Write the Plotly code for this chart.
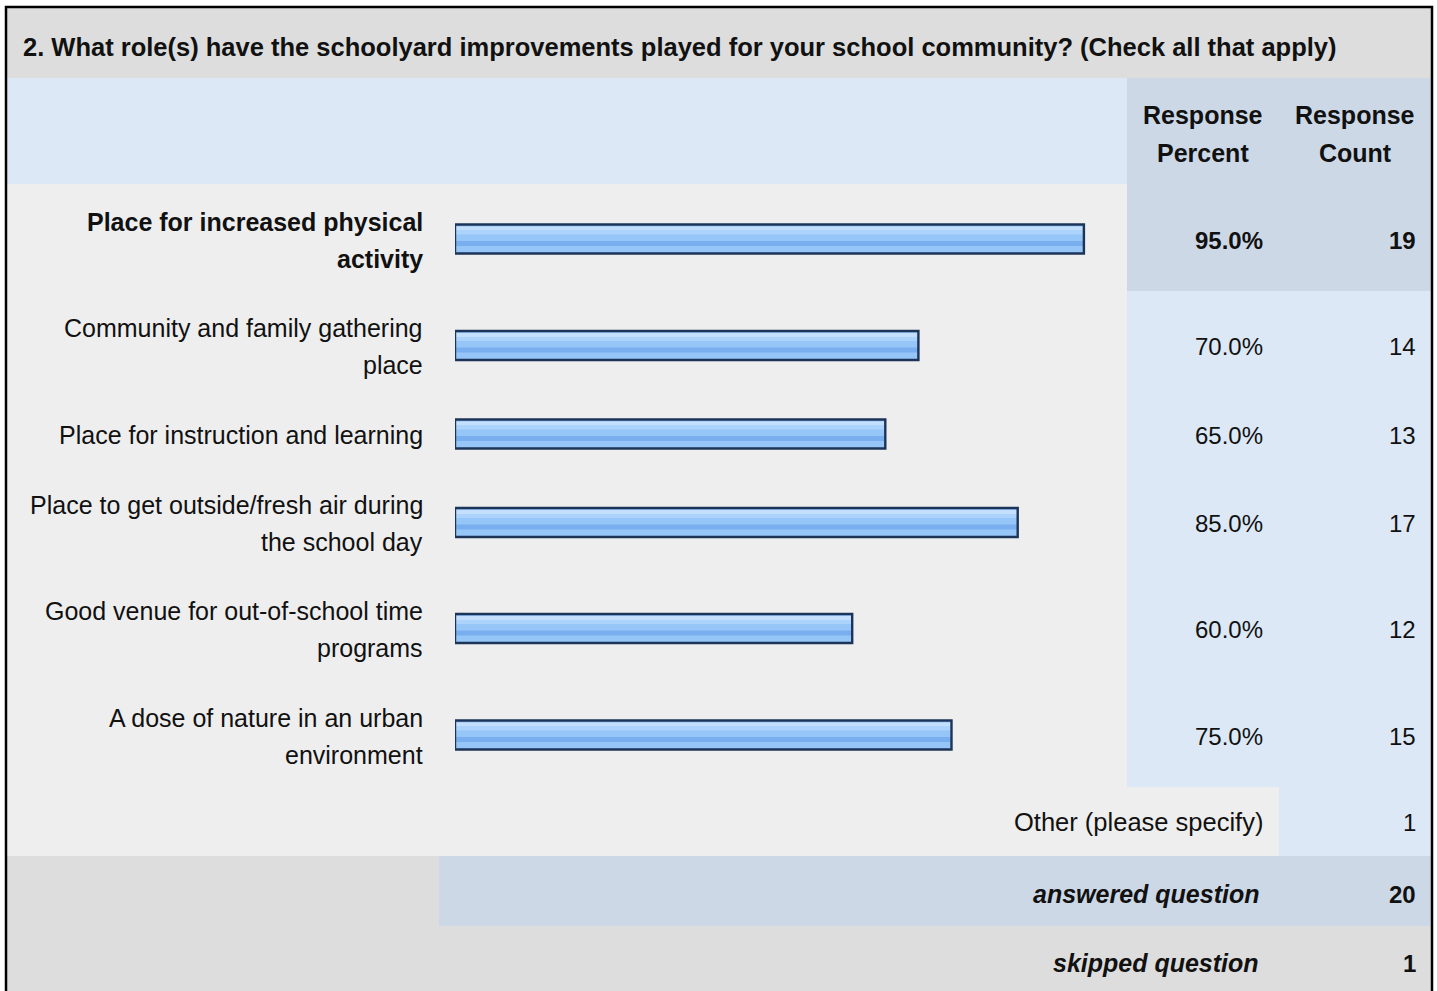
import plotly.graph_objects as go

W, H = 1437, 991

title = "2. What role(s) have the schoolyard improvements played for your school community? (Check all that apply)"
categories = [
    "Place for increased physical<br>activity",
    "Community and family gathering<br>place",
    "Place for instruction and learning",
    "Place to get outside/fresh air during<br>the school day",
    "Good venue for out-of-school time<br>programs",
    "A dose of nature in an urban<br>environment",
]
percents = [95.0, 70.0, 65.0, 85.0, 60.0, 75.0]
counts = [19, 14, 13, 17, 12, 15]
other_label = "Other (please specify)"
other_count = 1
answered = 20
skipped = 1
header_pct = ["Response", "Percent"]
header_cnt = ["Response", "Count"]

FONT = "Liberation Sans, Arial, sans-serif"
FS_TEXT = 25
FS_NUM = 24

# row boundaries in pixels (layout)
row_edges = [184, 291, 397, 468, 574, 680, 787]
centers = [(row_edges[i] + row_edges[i + 1]) / 2 + 1.5 for i in range(len(categories))]


def px(x):
    return x / W


def py(y):
    return 1 - y / H


shapes = []


def rect(x0, y0, x1, y1, color):
    shapes.append(dict(type="rect", xref="paper", yref="paper", x0=px(x0), x1=px(x1),
                       y0=py(y1), y1=py(y0), fillcolor=color, layer="below",
                       line=dict(width=0)))


LEFT, RIGHT = 6, 1432
rect(LEFT, 7, RIGHT, 78, "#dddddd")
rect(LEFT, 78, 1127, 184, "#dce8f5")
rect(1127, 78, RIGHT, 291, "#cdd8e6")
rect(LEFT, 184, 1127, 787, "#eeeeee")
rect(1127, 291, RIGHT, 787, "#dce8f5")
rect(LEFT, 787, 1279, 856, "#eeeeee")
rect(1279, 787, RIGHT, 856, "#dce8f5")
rect(LEFT, 856, 439, 926, "#dddddd")
rect(439, 856, RIGHT, 926, "#cdd8e6")
rect(LEFT, 926, RIGHT, 1000, "#dddddd")

# outer border
shapes.append(dict(type="rect", xref="paper", yref="paper", x0=px(LEFT), x1=px(RIGHT),
                   y0=py(1005), y1=py(7), fillcolor="rgba(0,0,0,0)",
                   line=dict(color="#000000", width=2.5), layer="above"))

annotations = []
PAD = 3  # annotation internal padding compensation


def text(x, y, s, anchor="right", bold=False, italic=False, size=FS_TEXT):
    if bold:
        s = "<b>" + s + "</b>"
    if italic:
        s = "<i>" + s + "</i>"
    if anchor == "right":
        x += PAD
    elif anchor == "left":
        x -= PAD
    annotations.append(dict(xref="paper", yref="paper", x=px(x), y=py(y), text=s,
                            showarrow=False, xanchor=anchor, yanchor="middle",
                            font=dict(family=FONT, size=size, color="#111111")))


text(24, 47, title, anchor="left", bold=True, size=25.5)
text(1203, 115, header_pct[0], anchor="center", bold=True)
text(1203, 153, header_pct[1], anchor="center", bold=True)
text(1355, 115, header_cnt[0], anchor="center", bold=True)
text(1355, 153, header_cnt[1], anchor="center", bold=True)

for i, (lab, p, c) in enumerate(zip(categories, percents, counts)):
    bold = i == 0
    lines = lab.split("<br>")
    cy = centers[i] + 1
    if len(lines) == 1:
        text(422, cy, lines[0], bold=bold)
    else:
        text(422, cy - 18.5, lines[0], bold=bold)
        text(422, cy + 18.5, lines[1], bold=bold)
    text(1262, cy, f"{p:.1f}%", bold=bold, size=FS_NUM)
    text(1415, cy, str(c), bold=bold, size=FS_NUM)

text(1262, 822, other_label, size=25.5)
text(1415, 822, str(other_count), size=FS_NUM)
text(1258, 894, "answered question", bold=True, italic=True)
text(1415, 894, str(answered), bold=True, size=FS_NUM)
text(1258, 963, "skipped question", bold=True, italic=True)
text(1415, 963, str(skipped), bold=True, size=FS_NUM)

fig = go.Figure()
bar_y = centers
BW = 29
# base fill
fig.add_trace(go.Bar(x=percents, y=bar_y, orientation="h", width=BW,
                     marker=dict(color="#96c5f8", line=dict(width=0)), hoverinfo="skip"))
# stripes (offset in y-pixel units; axis reversed so smaller y = higher)
stripes = [(-12.5, 4, "#c4dffd"), (-8.5, 4, "#acd3fb"), (2, 5, "#79afee")]
for off, w, col in stripes:
    fig.add_trace(go.Bar(x=percents, y=bar_y, orientation="h", width=w, offset=off,
                         marker=dict(color=col, line=dict(width=0)), hoverinfo="skip"))
# outline
fig.add_trace(go.Bar(x=percents, y=bar_y, orientation="h", width=BW,
                     marker=dict(color="rgba(0,0,0,0)", line=dict(width=2.4, color="#1c3457")),
                     hoverinfo="skip"))

fig.update_layout(
    width=W, height=H, margin=dict(l=0, r=0, t=0, b=0),
    paper_bgcolor="#ffffff", plot_bgcolor="rgba(0,0,0,0)",
    barmode="overlay", showlegend=False,
    xaxis=dict(domain=[px(455), px(1117)], range=[0, 100], visible=False, fixedrange=True),
    yaxis=dict(domain=[0, 1], range=[H, 0], visible=False, fixedrange=True),
    shapes=shapes, annotations=annotations,
)

fig.write_html("out.html", config={"displayModeBar": False},
               post_script="document.body.style.margin='0';document.body.style.overflow='hidden';")
